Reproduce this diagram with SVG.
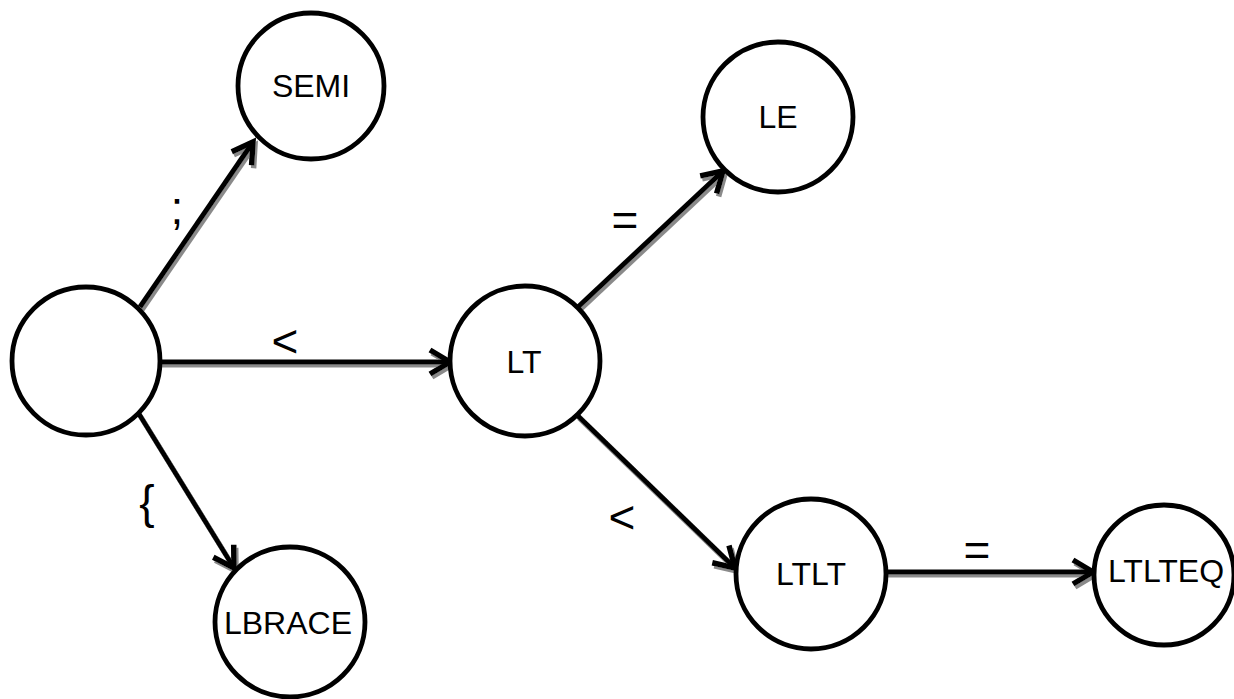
<svg xmlns="http://www.w3.org/2000/svg" width="1234" height="699" viewBox="0 0 1234 699">
<style>
.node circle{fill:#fff;stroke:#000;stroke-width:4.8}
.node text{font-family:"Liberation Sans",Arial,sans-serif;font-size:32px;fill:#000;text-anchor:middle}
.edge{stroke:#000;stroke-width:5;fill:none;marker-end:url(#arr)}
.lbl{font-family:"Liberation Sans",Arial,sans-serif;font-size:46px;fill:#000;text-anchor:middle}
</style>
<defs>
<marker id="arr" markerUnits="userSpaceOnUse" markerWidth="30" markerHeight="34" refX="24" refY="15" orient="auto" viewBox="0 0 30 30">
<path d="M4,3 L24,15 L4,27" fill="none" stroke="#000" stroke-width="5.5" stroke-linecap="butt" stroke-linejoin="miter"/>
</marker>
<filter id="sh" x="-10%" y="-10%" width="120%" height="130%">
<feDropShadow dx="2" dy="3" stdDeviation="0.4" flood-color="#8a8a8a" flood-opacity="1"/>
</filter>
</defs>
<g id="connectors" filter="url(#sh)">
<line class="edge" x1="140" y1="307" x2="253" y2="142"/>
<line class="edge" x1="160" y1="362" x2="450" y2="362"/>
<line class="edge" x1="139" y1="414" x2="234" y2="568"/>
<line class="edge" x1="578" y1="307" x2="723" y2="171"/>
<line class="edge" x1="577" y1="415" x2="735" y2="568"/>
<line class="edge" x1="886" y1="572" x2="1093" y2="572"/>
</g>
<g id="labels">
<text class="lbl" x="177" y="224">;</text>
<text class="lbl" x="285" y="357">&lt;</text>
<text class="lbl" x="625" y="236">=</text>
<text class="lbl" x="147" y="518">{</text>
<text class="lbl" x="622" y="533">&lt;</text>
<text class="lbl" x="977" y="566">=</text>
</g>
<g id="start" class="node"><circle cx="86" cy="361" r="74"/></g>
<g id="SEMI" class="node"><circle cx="311" cy="86" r="73"/><text x="311" y="97">SEMI</text></g>
<g id="LBRACE" class="node"><circle cx="290" cy="622" r="75"/><text x="288" y="634">LBRACE</text></g>
<g id="LT" class="node"><circle cx="525" cy="361" r="75"/><text x="524" y="373">LT</text></g>
<g id="LE" class="node"><circle cx="778" cy="117" r="75"/><text x="778" y="128">LE</text></g>
<g id="LTLT" class="node"><circle cx="811" cy="574" r="75"/><text x="811" y="585">LTLT</text></g>
<g id="LTLTEQ" class="node"><circle cx="1164" cy="575" r="70"/><text x="1166" y="582">LTLTEQ</text></g>
</svg>
